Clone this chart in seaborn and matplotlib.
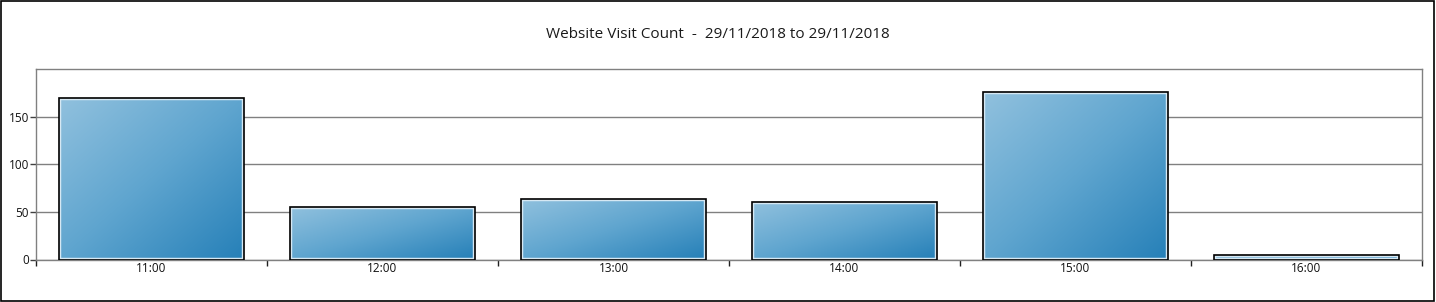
import numpy as np
import pandas as pd
import matplotlib
matplotlib.use("Agg")
import matplotlib.pyplot as plt
import seaborn as sns
from matplotlib.colors import LinearSegmentedColormap
from matplotlib.patches import Rectangle

hours = ["11:00", "12:00", "13:00", "14:00", "15:00", "16:00"]
visits = [170, 55, 64, 60, 176, 5]
y_ticks = [0, 50, 100, 150]
title = "Website Visit Count  -  29/11/2018 to 29/11/2018"

sns.set_theme(style="white")
plt.rcParams['font.family'] = ['Open Sans', 'DejaVu Sans']

df = pd.DataFrame({"hour": hours, "visits": visits})

W, H = 1436, 302
fig = plt.figure(figsize=(W / 100, H / 100), dpi=100)
fig.patch.set_facecolor("white")
# outer frame
fig.add_artist(Rectangle((0.0005, 0.002), 0.998, 0.995, transform=fig.transFigure,
                         fill=False, edgecolor="black", linewidth=1.2))

ax = fig.add_axes([36 / W, (H - 259.5) / H, (1422 - 36) / W, (259.5 - 69) / H])
sns.barplot(data=df, x="hour", y="visits", ax=ax, width=0.8, color="#4a9acb",
            edgecolor="black", linewidth=0, zorder=3)

ax.set_ylim(0, 200)
ax.set_xlim(-0.5, len(hours) - 0.5)
ax.set_xlabel("")
ax.set_ylabel("")
fig.text(0.5, (H - 34) / H, title, fontsize=11, color="#1a1a1a", ha="center", va="center")

cmap = LinearSegmentedColormap.from_list("g", ["#91c1de", "#5fa5cf", "#2680b8"])
u = np.linspace(0, 1, 200)
uu, vv = np.meshgrid(u, u)
grad = (uu + vv) / 2.0

for p in list(ax.patches):
    x0, y0 = p.get_x(), p.get_y()
    w, h = p.get_width(), p.get_height()
    p.set_facecolor("none")
    img = ax.imshow(grad, cmap=cmap, extent=[x0, x0 + w, y0, y0 + h], origin="upper",
                    aspect="auto", zorder=3, interpolation="bilinear")
    img.set_clip_path(p)
    # inner light border
    inner = Rectangle((x0, y0), w, h, fill=False, edgecolor="#d6e8f3", linewidth=3.2, zorder=4)
    ax.add_patch(inner)
    inner.set_clip_path(p)
    outer = Rectangle((x0, y0), w, h, fill=False, edgecolor="black", linewidth=1.2, zorder=5)
    ax.add_patch(outer)

ax.set_aspect("auto")
ax.set_xlim(-0.5, len(hours) - 0.5)
ax.set_ylim(0, 200)

ax.set_yticks(y_ticks)
ax.yaxis.grid(True, color="#808080", linewidth=1)
ax.set_axisbelow(True)
for s in ax.spines.values():
    s.set_color("#808080")
    s.set_linewidth(1)

ax.tick_params(axis="y", which="major", left=True, length=4, width=1, color="#404040",
               labelsize=8.5, labelcolor="#111111", pad=1)
ax.set_xticks(range(len(hours)))
ax.set_xticklabels(hours)
ax.tick_params(axis="x", which="major", bottom=False, length=0, labelsize=8.5,
               labelcolor="#111111", pad=2)
ax.set_xticks(np.arange(-0.5, len(hours)), minor=True)
ax.tick_params(axis="x", which="minor", bottom=True, length=4, width=1, color="#202020",
               direction="out")

fig.savefig("out.png", dpi=100)
